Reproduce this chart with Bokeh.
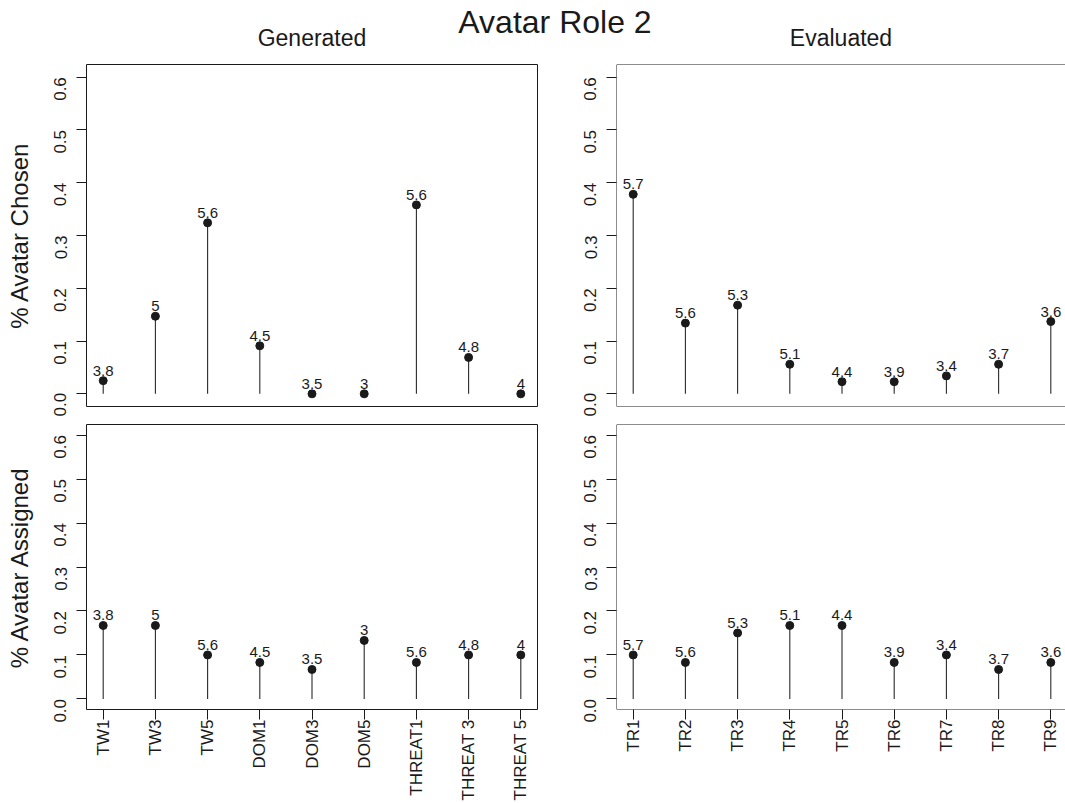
import math
from bokeh.plotting import figure
from bokeh.models import FixedTicker, PrintfTickFormatter, Span, Div, Range1d
from bokeh.layouts import column, row
from bokeh.core.properties import value
from bokeh.embed import file_html
from bokeh.resources import INLINE

# ---------------- data ----------------
gen_labels = ["TW1", "TW3", "TW5", "DOM1", "DOM3", "DOM5", "THREAT1", "THREAT 3", "THREAT 5"]
eval_labels = ["TR1", "TR2", "TR3", "TR4", "TR5", "TR6", "TR7", "TR8", "TR9"]

gen_scores = ["3.8", "5", "5.6", "4.5", "3.5", "3", "5.6", "4.8", "4"]
eval_scores = ["5.7", "5.6", "5.3", "5.1", "4.4", "3.9", "3.4", "3.7", "3.6"]

gen_chosen = [0.025, 0.147, 0.324, 0.091, 0.0, 0.0, 0.358, 0.069, 0.0]
eval_chosen = [0.378, 0.134, 0.168, 0.056, 0.023, 0.023, 0.034, 0.056, 0.137]
gen_assigned = [0.167, 0.167, 0.100, 0.083, 0.067, 0.133, 0.083, 0.100, 0.100]
eval_assigned = [0.100, 0.083, 0.150, 0.167, 0.167, 0.083, 0.100, 0.067, 0.083]

y_ticks = [0.0, 0.1, 0.2, 0.3, 0.4, 0.5, 0.6]

main_title = "Avatar Role 2"
col_titles = ["Generated", "Evaluated"]
row_titles = ["% Avatar Chosen", "% Avatar Assigned"]

# ---------------- style ----------------
FONT = "Liberation Sans"
INK = "#1a1a1a"
STEM = "#2a2a2a"
Y0, Y1 = -0.024, 0.624
UNIT = 52.2  # px per category step
TICK_FS = "17px"


def panel(values, scores, cats, width, height, frame_w, bl, br, bt, bb,
          show_x, ylabel, title, full_box, title_offset=0):
    n = len(values)
    xs = list(range(1, n + 1))
    x_start = 0.68
    x_end = x_start + frame_w / UNIT
    p = figure(width=width, height=height,
               x_range=Range1d(x_start, x_end), y_range=Range1d(Y0, Y1),
               output_backend="svg", toolbar_location=None,
               min_border_left=bl, min_border_right=br,
               min_border_top=bt, min_border_bottom=bb,
               background_fill_color="white", border_fill_color=None)
    p.xgrid.visible = False
    p.ygrid.visible = False

    p.segment(x0=xs, y0=[0] * n, x1=xs, y1=values, line_color=STEM, line_width=1.1)
    p.scatter(xs, values, size=8, fill_color=INK, line_color=INK)
    p.text(xs, values, text=scores, text_align="center", text_baseline="bottom",
           y_offset=-5, text_font=value(FONT), text_font_size="15px", text_color=INK)

    if full_box:
        p.outline_line_color = INK
        p.outline_line_width = 1
    else:
        p.outline_line_color = None
        for loc, dim in [(Y1, "width"), (Y0, "width"), (x_start, "height")]:
            p.add_layout(Span(location=loc, dimension=dim, line_color=INK, line_width=1))

    ya = p.yaxis[0]
    ya.ticker = FixedTicker(ticks=y_ticks)
    ya.formatter = PrintfTickFormatter(format="%.1f")
    ya.major_label_orientation = math.pi / 2
    ya.major_label_text_font = FONT
    ya.major_label_text_font_size = TICK_FS
    ya.major_label_text_color = INK
    ya.major_label_standoff = 16
    ya.major_tick_out = 10
    ya.major_tick_in = 0
    ya.major_tick_line_color = INK
    ya.minor_tick_line_color = None
    ya.axis_line_color = None
    if ylabel:
        ya.axis_label = ylabel
        ya.axis_label_text_font = FONT
        ya.axis_label_text_font_size = "24px"
        ya.axis_label_text_font_style = "normal"
        ya.axis_label_text_color = INK
        ya.axis_label_standoff = 13

    xa = p.xaxis[0]
    if show_x:
        xa.ticker = FixedTicker(ticks=xs)
        xa.major_label_overrides = {i + 1: c for i, c in enumerate(cats)}
        xa.major_label_orientation = math.pi / 2
        xa.major_label_text_font = FONT
        xa.major_label_text_font_size = TICK_FS
        xa.major_label_text_color = INK
        xa.major_label_standoff = 0
        xa.major_tick_out = 10
        xa.major_tick_in = 0
        xa.major_tick_line_color = INK
        xa.minor_tick_line_color = None
        xa.axis_line_color = None
    else:
        xa.visible = False

    if title:
        p.title.text = title
        p.title.align = "center"
        p.title.text_font = FONT
        p.title.text_font_size = "23px"
        p.title.text_font_style = "normal"
        p.title.text_color = INK
        p.title.standoff = 28
        p.title.offset = title_offset
    return p


TOP_H, BOT_H = 416, 387
LW, RW = 538, 527

tl = panel(gen_chosen, gen_scores, gen_labels, LW, TOP_H, 451, 86, 1, 64, 10,
           False, row_titles[0], col_titles[0], True, -4)
tr = panel(eval_chosen, eval_scores, eval_labels, RW, TOP_H, 449, 78, 0, 64, 10,
           False, None, col_titles[1], False, -7)
bl = panel(gen_assigned, gen_scores, gen_labels, LW, BOT_H, 451, 86, 1, 8, 94,
           True, row_titles[1], None, True)
br = panel(eval_assigned, eval_scores, eval_labels, RW, BOT_H, 449, 78, 0, 8, 94,
           True, None, None, False)

head = Div(text=main_title, width=LW + RW, height=40, margin=(0, 0, -40, 0),
           styles={"font-family": FONT, "font-size": "32px", "line-height": "40px",
                   "padding-top": "2px", "text-align": "center", "color": INK,
                   "padding-left": "45px"})

layout = column(head, row(tl, tr, spacing=0), row(bl, br, spacing=0), spacing=0)

open("out.html", "w").write(file_html(layout, INLINE))
